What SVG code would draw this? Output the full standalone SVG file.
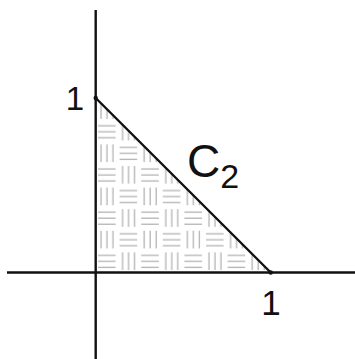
<svg xmlns="http://www.w3.org/2000/svg" width="355" height="359" viewBox="0 0 355 359">
<style>
.axis{stroke:#111;stroke-width:2.4;fill:none}
.edge{stroke:#111;stroke-width:2.4;fill:none;stroke-linecap:round}
.w{stroke:#b4b4b4;stroke-width:1.3}
.lbl{font-family:"Liberation Sans",Arial,sans-serif;fill:#111}
</style>
<defs>
<pattern id="weave" patternUnits="userSpaceOnUse" x="96" y="164" width="43.2" height="43.2">
<rect width="43.2" height="43.2" fill="#fff"/>
<g class="w">
<line x1="2" y1="5" x2="19.6" y2="5"/><line x1="2" y1="11" x2="19.6" y2="11"/><line x1="2" y1="17" x2="19.6" y2="17"/>
<line x1="26.6" y1="2" x2="26.6" y2="19.6"/><line x1="32.6" y1="2" x2="32.6" y2="19.6"/><line x1="38.6" y1="2" x2="38.6" y2="19.6"/>
<line x1="5" y1="23.6" x2="5" y2="41.2"/><line x1="11" y1="23.6" x2="11" y2="41.2"/><line x1="17" y1="23.6" x2="17" y2="41.2"/>
<line x1="23.6" y1="26.6" x2="41.2" y2="26.6"/><line x1="23.6" y1="32.6" x2="41.2" y2="32.6"/><line x1="23.6" y1="38.6" x2="41.2" y2="38.6"/>
</g>
</pattern>
</defs>
<rect width="355" height="359" fill="#fff"/>
<g id="region">
<polygon points="96,98 271,272.5 96,272.5" fill="url(#weave)"/>
</g>
<g id="axes">
<line class="axis" x1="95.7" y1="10" x2="95.7" y2="359"/>
<line class="axis" x1="7" y1="272.5" x2="355" y2="272.5"/>
</g>
<g id="connectors">
<line class="edge" x1="95.7" y1="98" x2="270.7" y2="272.5"/>
<circle cx="95.7" cy="98" r="2.2" fill="#111"/>
<circle cx="270.7" cy="272.5" r="2.2" fill="#111"/>
</g>
<g id="labels">
<text class="lbl" x="75" y="110" font-size="33" text-anchor="middle">1</text>
<text class="lbl" x="271" y="315" font-size="35" text-anchor="middle">1</text>
<text class="lbl" x="187" y="177" font-size="46">C<tspan font-size="34" dy="11">2</tspan></text>
</g>
</svg>
